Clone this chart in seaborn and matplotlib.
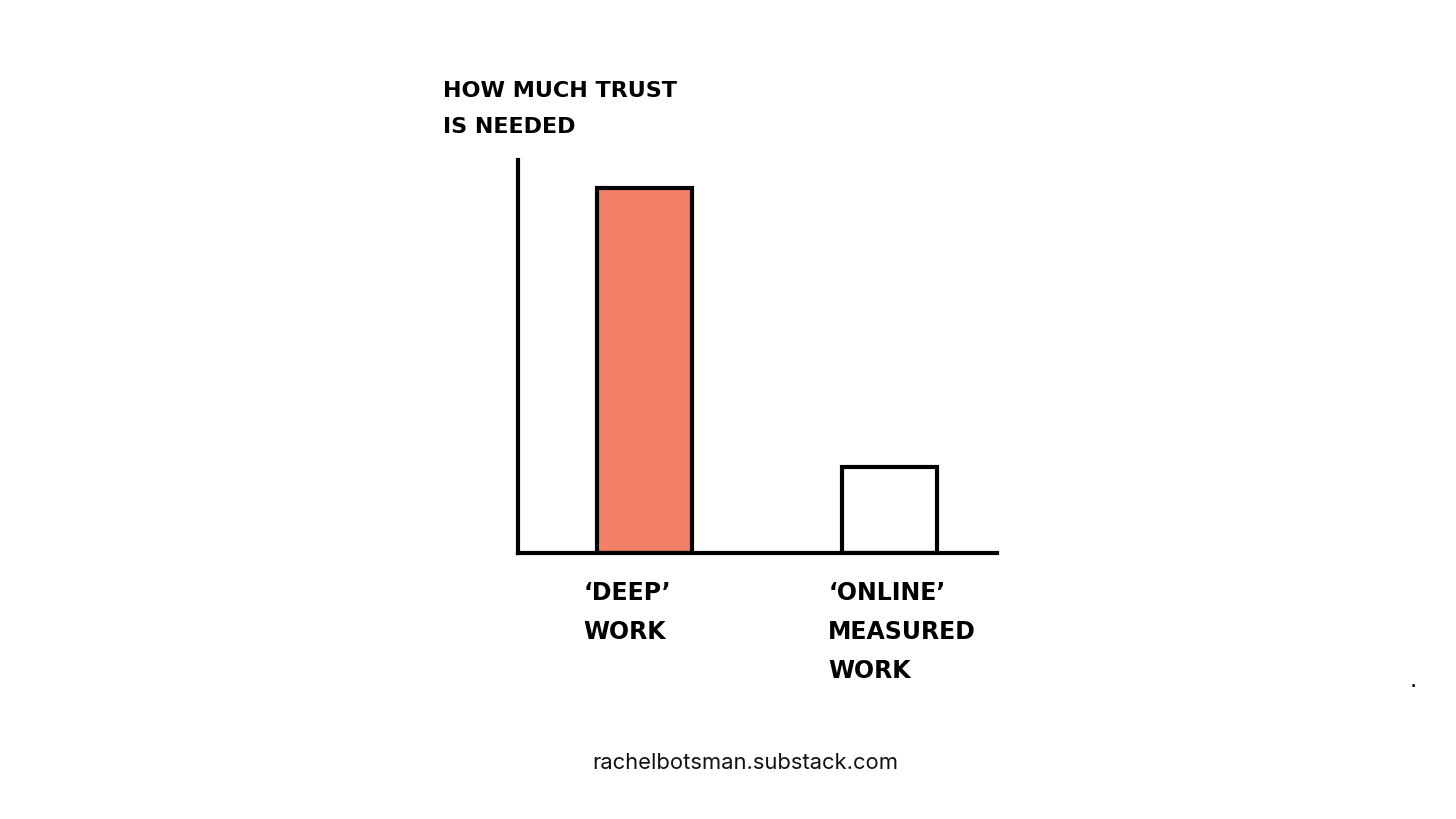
import matplotlib
matplotlib.use("Agg")
import matplotlib.pyplot as plt
import seaborn as sns
import pandas as pd

# ---- data ----
categories = ["‘DEEP’\nWORK", "‘ONLINE’\nMEASURED\nWORK"]
trust_needed = [93, 22]
bar_colors = ["#F28066", "#FFFFFF"]
y_title = "HOW MUCH TRUST\nIS NEEDED"
footer = "rachelbotsman.substack.com"

W, H = 1456, 819
sns.set_theme(style="white")
plt.rcParams["font.family"] = ["DejaVu Sans"]

fig = plt.figure(figsize=(W / 100, H / 100), dpi=100)
fig.patch.set_facecolor("white")

def fx(px):
    return px / W

def fy(py):
    return 1 - py / H

ax_left, ax_right, ax_top, ax_bottom = 518, 997, 160, 553
ax = fig.add_axes([fx(ax_left), fy(ax_bottom), fx(ax_right - ax_left), fy(ax_top) - fy(ax_bottom)])

df = pd.DataFrame({"cat": categories, "val": trust_needed})
sns.barplot(data=df, x="cat", y="val", hue="cat", palette=bar_colors,
            saturation=1, edgecolor="black", linewidth=3, width=0.39,
            legend=False, ax=ax)

ax.set_ylim(0, 100)
ax.set_xlim(-0.516, 1.439)
ax.set_xticks([])
ax.set_yticks([])
ax.set_xlabel("")
ax.set_ylabel("")
for s in ["top", "right"]:
    ax.spines[s].set_visible(False)
for s in ["left", "bottom"]:
    ax.spines[s].set_visible(True)
    ax.spines[s].set_linewidth(3)
    ax.spines[s].set_color("black")
ax.set_facecolor("white")

# category labels under bars
for i, lab in enumerate(categories):
    ax.text(i - 0.25, -0.07, lab, transform=ax.get_xaxis_transform(),
            ha="left", va="top", fontsize=17, fontweight="bold",
            color="black", linespacing=1.8)

# axis title
fig.text(fx(443), fy(109), y_title, ha="left", va="center", fontsize=16,
         fontweight="bold", color="black", linespacing=2.0)

# footer
fig.text(fx(745), fy(763), footer, ha="center", va="center", fontsize=15.8,
         family=["Inter", "DejaVu Sans"], color="#111111")

# stray dot
fig.text(fx(1413), fy(683), ".", ha="center", va="center", fontsize=10,
         fontweight="bold", color="black")

fig.savefig("out.png", dpi=100, facecolor="white")
